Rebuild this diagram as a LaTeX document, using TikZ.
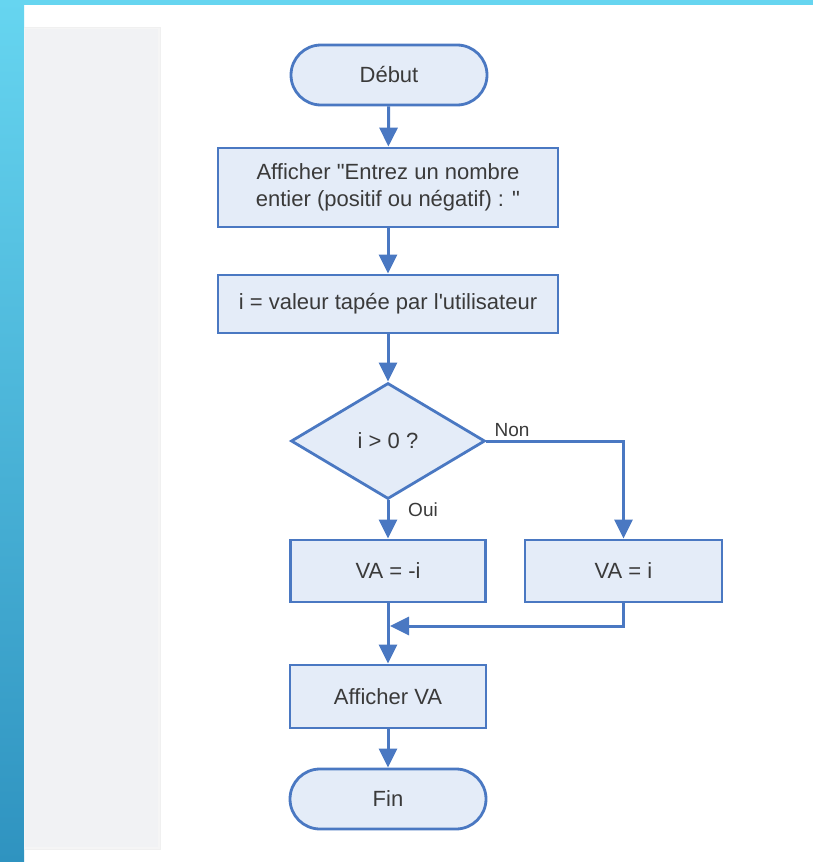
\documentclass[tikz,border=0pt]{standalone}
\usepackage{fontspec}
\setmainfont{Liberation Sans}[Ligatures=TeXOff]
\usetikzlibrary{shapes.geometric,arrows.meta}
\definecolor{edge}{HTML}{4A78C2}
\definecolor{boxfill}{HTML}{E4ECF8}
\definecolor{txt}{HTML}{3A3A3A}
\definecolor{stripTop}{HTML}{66D5F0}
\definecolor{stripBot}{HTML}{2F93C0}
\definecolor{panel}{HTML}{F1F2F4}
\begin{document}
\begin{tikzpicture}[x=1pt,y=-1pt,
  base/.style={draw=edge, fill=boxfill, line width=2.8pt, text=txt,
    font=\fontsize{22}{27}\selectfont, inner sep=0pt, align=center},
  term/.style={base, rectangle, rounded corners=30pt, minimum width=196pt, minimum height=60pt},
  proc/.style={base, rectangle},
  dec/.style={base, diamond, aspect=1.67, minimum width=194pt, minimum height=116pt},
  lbl/.style={text=txt, font=\fontsize{19}{22}\selectfont, inner sep=0pt},
  conn/.style={draw=edge, line width=3pt, -{Triangle[width=18pt,length=19pt]}}]
\useasboundingbox (0,0) rectangle (813,862);
\fill[white] (0,0) rectangle (813,862);
% background decoration
\fill[stripTop] (0,0) rectangle (813,5);
\shade[top color=stripTop, bottom color=stripBot] (0,0) rectangle (24,862);
\fill[black!6] (24,27) rectangle (161,850);
\fill[black!4] (24,28) rectangle (160,849);
\fill[panel] (25,29) rectangle (158,847);
% nodes
\node[term] (debut) at (389,75) {Début};
\node[proc, minimum width=340pt, minimum height=79pt] (aff1) at (388,187.5)
  {Afficher "Entrez un nombre\\entier (positif ou négatif) : "};
\node[proc, minimum width=340pt, minimum height=58pt] (ival) at (388,304)
  {i = valeur tapée par l'utilisateur};
\node[dec] (test) at (388,441) {i > 0 ?};
\node[proc, minimum width=195pt, minimum height=62pt] (vam) at (388,571) {VA = -i};
\node[proc, minimum width=197pt, minimum height=62pt] (vap) at (623.5,571) {VA = i};
\node[proc, minimum width=196pt, minimum height=63pt] (affva) at (388,696.5) {Afficher VA};
\node[term] (fin) at (388,799) {Fin};
\node[lbl] (non) at (512,430) {Non};
\node[lbl] (oui) at (423,510) {Oui};
\coordinate (merge) at (390,626);
% connectors
\draw[conn] (debut) -- (aff1);
\draw[conn] (aff1) -- (ival);
\draw[conn] (ival) -- (test);
\draw[conn] (test.south) -- (vam.north);
\draw[conn] (test.east) -| (vap.north);
\draw[conn] (vap.south) |- (merge);
\draw[conn] (vam.south) -- (affva.north);
\draw[conn] (affva) -- (fin);
\end{tikzpicture}
\end{document}
